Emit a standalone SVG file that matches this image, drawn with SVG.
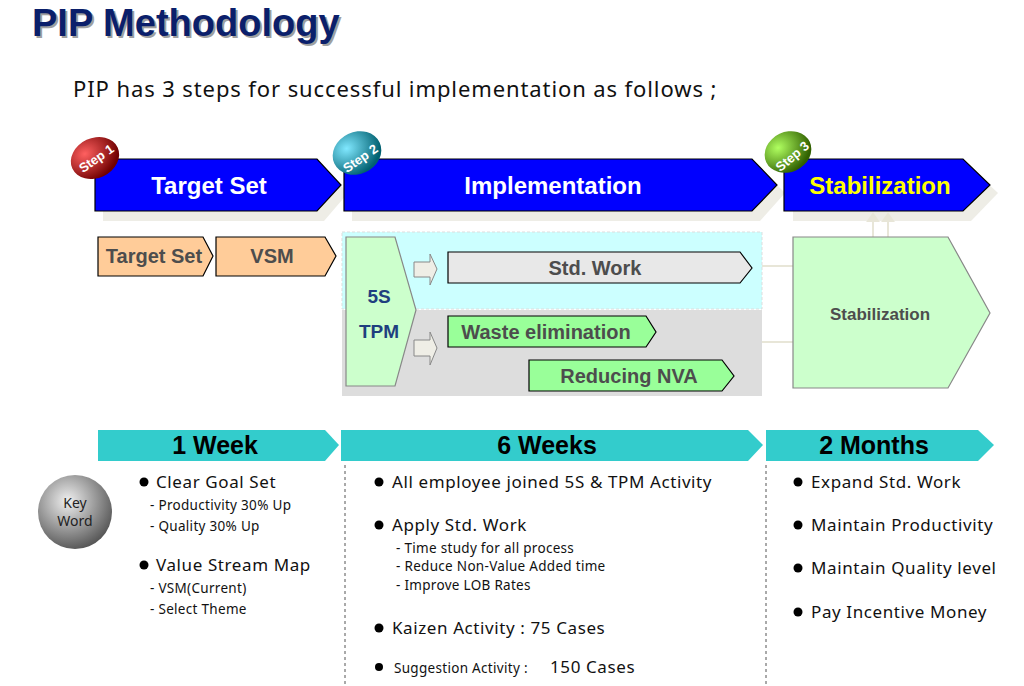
<svg xmlns="http://www.w3.org/2000/svg" width="1024" height="686" viewBox="0 0 1024 686">
<defs>
<radialGradient id="gr" cx="0.35" cy="0.3" r="0.7"><stop offset="0" stop-color="#ff6060"/><stop offset="1" stop-color="#700000"/></radialGradient>
<radialGradient id="gb" cx="0.35" cy="0.3" r="0.7"><stop offset="0" stop-color="#80e8ff"/><stop offset="1" stop-color="#006070"/></radialGradient>
<radialGradient id="gg" cx="0.35" cy="0.3" r="0.7"><stop offset="0" stop-color="#b0ff60"/><stop offset="1" stop-color="#306000"/></radialGradient>
<radialGradient id="gk" cx="0.4" cy="0.35" r="0.7"><stop offset="0" stop-color="#f0f0f0"/><stop offset="1" stop-color="#505050"/></radialGradient>
</defs>
<style>
.ban{fill:#0000ff;stroke:#000;stroke-width:1.2}
.sh{fill:#eeede6}
.bt{font-family:"Liberation Sans",Arial,sans-serif;font-weight:bold;font-size:24px;fill:#fff;text-anchor:middle}
.st{font-family:"Liberation Sans",Arial,sans-serif;font-weight:bold;font-size:13px;fill:#fff;text-anchor:middle}
.or{fill:#ffcc99;stroke:#000;stroke-width:1.2}
.gt{font-family:"Liberation Sans",Arial,sans-serif;font-weight:bold;font-size:20px;fill:#4d4d4d;text-anchor:middle}
.lg{fill:#99ff99;stroke:#000;stroke-width:1.2}
.tl{fill:#33cccc}
.tt{font-family:"Liberation Sans",Arial,sans-serif;font-weight:bold;font-size:25px;fill:#000;text-anchor:middle}
.b1{font-family:"Noto Sans","Liberation Sans",sans-serif;font-size:17px;fill:#111;letter-spacing:0.6px}
.b2{font-family:"Noto Sans","Liberation Sans",sans-serif;font-size:13.5px;fill:#111;letter-spacing:0.3px}
.sa{fill:#efeee6;stroke:#888;stroke-width:1}
</style>
<text x="32" y="36" font-family="Liberation Sans,Arial,sans-serif" font-weight="bold" font-size="38" fill="#a0a0a0" transform="translate(2,2)">PIP Methodology</text>
<text x="32" y="36" font-family="Liberation Sans,Arial,sans-serif" font-weight="bold" font-size="38" fill="#0b1f6b">PIP Methodology</text>
<text x="73" y="97" font-family="Noto Sans,Liberation Sans,sans-serif" font-size="22" fill="#111" letter-spacing="0.9">PIP has 3 steps for successful implementation as follows ;</text>

<g id="banners">
<polygon class="sh" points="103,168 324,168 348,193 324,221 103,221"/>
<polygon class="sh" points="352,168 760,168 785,193 760,221 352,221"/>
<polygon class="sh" points="793,168 971,168 998,193 971,221 793,221"/>
<polygon class="ban" points="95,159 317,159 341,185 317,211 95,211"/>
<text class="bt" x="209" y="194">Target Set</text>
<polygon class="ban" points="344,159 752,159 777,185 752,211 344,211"/>
<text class="bt" x="553" y="194">Implementation</text>
<polygon class="ban" points="784,159 963,159 990,185 963,211 784,211"/>
<text class="bt" x="880" y="194" style="fill:#ffff00">Stabilization</text>
</g>
<g id="step1"><ellipse cx="95" cy="158" rx="25" ry="20" fill="url(#gr)" transform="rotate(-25 95 158)"/><text class="st" x="96" y="163" transform="rotate(-35 96 158)">Step 1</text></g>
<g id="step2"><ellipse cx="357" cy="153" rx="25" ry="21" fill="url(#gb)" transform="rotate(-25 357 153)"/><text class="st" x="360" y="163" transform="rotate(-35 360 158)">Step 2</text></g>
<g id="step3"><ellipse cx="788" cy="152" rx="24" ry="20" fill="url(#gg)" transform="rotate(-25 788 152)"/><text class="st" x="792" y="161" transform="rotate(-40 792 156)">Step 3</text></g>

<g id="connectors" stroke="#e8e6d8" stroke-width="2" fill="none">
<line x1="762" y1="266" x2="793" y2="266"/>
<line x1="762" y1="342" x2="793" y2="342"/>
<line x1="873" y1="237" x2="873" y2="215"/>
<line x1="888" y1="237" x2="888" y2="215"/>
<polygon points="868,221 873,214 878,221" fill="#e8e6d8"/>
<polygon points="883,221 888,214 893,221" fill="#e8e6d8"/>
</g>

<g id="targetset"><polygon class="or" points="98,237 203,237 213,256 203,276 98,276"/><text class="gt" x="154" y="263">Target Set</text></g>
<g id="vsm"><polygon class="or" points="216,237 325,237 336,256 325,276 216,276"/><text class="gt" x="272" y="263">VSM</text></g>

<g id="impl">
<rect x="342" y="232" width="420" height="77" fill="#ccffff" stroke="#ddd" stroke-dasharray="3,2"/>
<rect x="342" y="310" width="420" height="86" fill="#dddddd"/>
<polygon points="346,237 395,237 416,310 395,386 346,386" fill="#ccffcc" stroke="#888" stroke-width="1.2"/>
<text x="379" y="303" font-family="Liberation Sans,Arial,sans-serif" font-weight="bold" font-size="19" fill="#1f3f7f" text-anchor="middle">5S</text>
<text x="379" y="338" font-family="Liberation Sans,Arial,sans-serif" font-weight="bold" font-size="19" fill="#1f3f7f" text-anchor="middle">TPM</text>
<polygon class="sa" points="414,262 430,262 430,254 437,269 430,285 430,277 414,277"/>
<polygon class="sa" points="414,340 430,340 430,332 437,348 430,365 430,356 414,356"/>
</g>
<g id="stdwork"><polygon points="448,252 740,252 752,268 740,283 448,283" fill="#e8e8e8" stroke="#000" stroke-width="1.2"/><text class="gt" x="595" y="275">Std. Work</text></g>
<g id="waste"><polygon class="lg" points="448,316 646,316 656,332 646,347 448,347"/><text class="gt" x="546" y="339">Waste elimination</text></g>
<g id="nva"><polygon class="lg" points="529,360 722,360 734,376 722,391 529,391"/><text class="gt" x="629" y="383">Reducing NVA</text></g>
<g id="stab"><polygon points="793,237 948,237 990,313 948,388 793,388" fill="#ccffcc" stroke="#888" stroke-width="1.2"/><text x="880" y="320" font-family="Liberation Sans,Arial,sans-serif" font-weight="bold" font-size="17" fill="#4d4d4d" text-anchor="middle">Stabilization</text></g>

<g id="timeline">
<polygon class="tl" points="98,430 325,430 339,445 325,461 98,461"/><text class="tt" x="215" y="454">1 Week</text>
<polygon class="tl" points="341,430 748,430 763,445 748,461 341,461"/><text class="tt" x="547" y="454">6 Weeks</text>
<polygon class="tl" points="766,430 978,430 994,445 978,461 766,461"/><text class="tt" x="874" y="454">2 Months</text>
</g>
<g stroke="#555" stroke-dasharray="3,3"><line x1="345" y1="465" x2="345" y2="686"/><line x1="766" y1="465" x2="766" y2="686"/></g>

<g id="keyword"><circle cx="75" cy="512" r="37" fill="url(#gk)"/><text x="75" y="508" font-family="Noto Sans,Liberation Sans,sans-serif" font-size="14" text-anchor="middle" fill="#222">Key</text><text x="75" y="526" font-family="Noto Sans,Liberation Sans,sans-serif" font-size="14" text-anchor="middle" fill="#222">Word</text></g>

<g id="col1">
<circle cx="144" cy="482" r="4.5" fill="#000"/><text class="b1" x="156" y="488">Clear Goal Set</text>
<text class="b2" x="150" y="510">- Productivity 30% Up</text>
<text class="b2" x="150" y="531">- Quality 30% Up</text>
<circle cx="144" cy="565" r="4.5" fill="#000"/><text class="b1" x="156" y="571">Value Stream Map</text>
<text class="b2" x="150" y="593">- VSM(Current)</text>
<text class="b2" x="150" y="614">- Select Theme</text>
</g>
<g id="col2">
<circle cx="379" cy="482" r="4.5" fill="#000"/><text class="b1" x="392" y="488">All employee joined 5S &amp; TPM Activity</text>
<circle cx="379" cy="525" r="4.5" fill="#000"/><text class="b1" x="392" y="531">Apply Std. Work</text>
<text class="b2" x="396" y="553">- Time study for all process</text>
<text class="b2" x="396" y="571">- Reduce Non-Value Added time</text>
<text class="b2" x="396" y="590">- Improve LOB Rates</text>
<circle cx="379" cy="628" r="4.5" fill="#000"/><text class="b1" x="392" y="634">Kaizen Activity : 75 Cases</text>
<circle cx="379" cy="667" r="4" fill="#000"/><text class="b2" x="394" y="673">Suggestion Activity :</text><text class="b1" x="550" y="673">150 Cases</text>
</g>
<g id="col3">
<circle cx="798" cy="482" r="4.5" fill="#000"/><text class="b1" x="811" y="488">Expand Std. Work</text>
<circle cx="798" cy="525" r="4.5" fill="#000"/><text class="b1" x="811" y="531">Maintain Productivity</text>
<circle cx="798" cy="568" r="4.5" fill="#000"/><text class="b1" x="811" y="574">Maintain Quality level</text>
<circle cx="798" cy="612" r="4.5" fill="#000"/><text class="b1" x="811" y="618">Pay Incentive Money</text>
</g>
</svg>
